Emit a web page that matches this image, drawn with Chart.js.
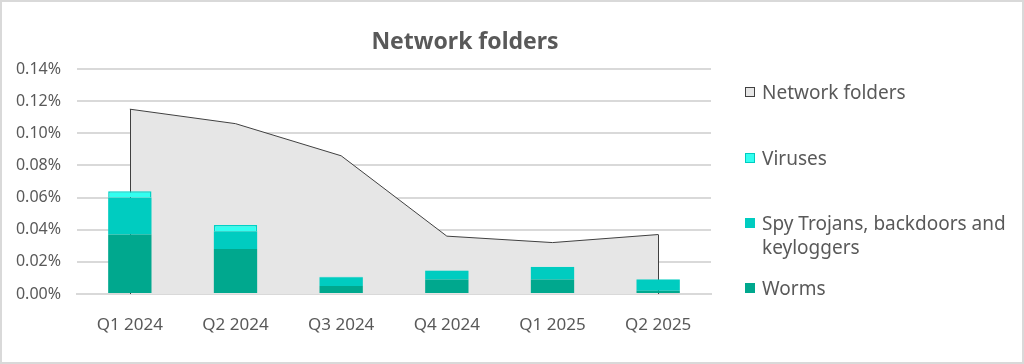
<!DOCTYPE html>
<html>
<head>
<meta charset="utf-8">
<script src="https://cdn.jsdelivr.net/npm/chart.js@4.4.1/dist/chart.umd.min.js"></script>
<style>
  html, body { margin: 0; padding: 0; background: #fff; }
  #wrap { position: relative; width: 1024px; height: 364px; }
  #frame { position: absolute; left: 0; top: 0; width: 1020px; height: 360px; border: 2px solid #d9d9d9; pointer-events: none; }
  #title { position: absolute; left: 0; width: 930px; top: 24px; text-align: center; font: bold 23px "Noto Sans", sans-serif; color: #595959; }
  #legend { position: absolute; left: 745px; top: 0; font: 19px "Noto Sans", sans-serif; color: #595959; }
  .item { position: absolute; left: 0; white-space: nowrap; line-height: 24px; }
  .box { position: absolute; left: 0; top: 7px; width: 10px; height: 10px; box-sizing: border-box; }
  .txt { position: absolute; left: 17px; top: 0; }
</style>
</head>
<body>
<div id="wrap">
  <canvas id="myChart" width="1024" height="364"></canvas>
  <div id="title">Network folders</div>
  <div id="legend"></div>
  <div id="frame"></div>
</div>
<script>
const labels = ['Q1 2024', 'Q2 2024', 'Q3 2024', 'Q4 2024', 'Q1 2025', 'Q2 2025']
// values in percent
const networkFolders = [0.115, 0.106, 0.086, 0.036, 0.032, 0.037]
const worms = [0.037, 0.028, 0.005, 0.009, 0.009, 0.002]
const spyTrojans = [0.023, 0.011, 0.0055, 0.0054, 0.0078, 0.007]
const viruses = [0.004, 0.004, 0.0002, 0.0002, 0.0002, 0.0002]
const yTicks = [0, 0.02, 0.04, 0.06, 0.08, 0.10, 0.12, 0.14]

const textColor = '#595959'
const fontFamily = '"Noto Sans", sans-serif'

// excel-style area has its vertical edges outlined
const areaEdges = {
  id: 'areaEdges',
  afterDatasetDraw(chart, args) {
    if (args.index !== 0) return
    const pts = args.meta.data
    const zero = chart.scales.y.getPixelForValue(0)
    const c = chart.ctx
    c.save()
    c.strokeStyle = '#404040'
    c.lineWidth = 1
    c.beginPath()
    for (const p of [pts[0], pts[pts.length - 1]]) {
      c.moveTo(Math.round(p.x) + 0.5, p.y)
      c.lineTo(Math.round(p.x) + 0.5, zero)
    }
    c.stroke()
    c.restore()
  }
}

const config = {
  data: {
    labels: labels,
    datasets: [
      {
        type: 'line',
        label: 'Network folders',
        data: networkFolders,
        stack: 'area',
        fill: 'origin',
        backgroundColor: '#e6e6e6',
        borderColor: '#404040',
        borderWidth: 1,
        pointRadius: 0,
        tension: 0,
        order: 10
      },
      {
        type: 'bar',
        label: 'Worms',
        data: worms,
        stack: 'bars',
        backgroundColor: '#00a88e',
        borderWidth: 0,
        order: 1
      },
      {
        type: 'bar',
        label: 'Spy Trojans, backdoors and keyloggers',
        data: spyTrojans,
        stack: 'bars',
        backgroundColor: '#00ccc0',
        borderWidth: 0,
        order: 2
      },
      {
        type: 'bar',
        label: 'Viruses',
        data: viruses,
        stack: 'bars',
        backgroundColor: '#33fff0',
        borderColor: '#00d2c6',
        borderWidth: 1.5,
        borderSkipped: 'bottom',
        order: 3
      }
    ]
  },
  options: {
    animation: false,
    responsive: false,
    barPercentage: 0.41,
    categoryPercentage: 1,
    layout: { padding: { top: 69, right: 313, left: 0, bottom: 0 } },
    plugins: {
      legend: { display: false },
      title: { display: false },
      tooltip: { enabled: false }
    },
    scales: {
      x: {
        stacked: true,
        offset: true,
        grid: { display: false },
        border: { color: '#d9d9d9', width: 2 },
        ticks: { color: textColor, font: { family: fontFamily, size: 17 }, padding: 13 },
        afterFit(scale) { scale.height = 70 }
      },
      y: {
        stacked: true,
        min: 0,
        max: 0.14,
        afterBuildTicks(scale) { scale.ticks = yTicks.map(v => ({ value: v })) },
        grid: { color: '#d9d9d9', lineWidth: 2, drawTicks: false },
        border: { display: false },
        ticks: {
          color: textColor,
          font: { family: fontFamily, size: 16 },
          padding: 16,
          callback: v => v.toFixed(2) + '%'
        },
        afterFit(scale) { scale.width = 77 }
      }
    }
  },
  plugins: [areaEdges]
}

const ctx = document.getElementById('myChart')
const chart = new Chart(ctx, config)

// legend built by hand so the long label can wrap like the original
const legendItems = [
  { text: 'Network folders', top: 80, fill: '#e6e6e6', border: '#404040' },
  { text: 'Viruses', top: 146, fill: '#33fff0', border: '#00ccc0' },
  { text: 'Spy Trojans, backdoors and<br>keyloggers', top: 211, fill: '#00ccc0', border: '#00ccc0' },
  { text: 'Worms', top: 276, fill: '#00a88e', border: '#00a88e' }
]
const legend = document.getElementById('legend')
legendItems.forEach(it => {
  const d = document.createElement('div')
  d.className = 'item'
  d.style.top = it.top + 'px'
  d.innerHTML = '<span class="box" style="background:' + it.fill + ';border:1px solid ' + it.border + '"></span><span class="txt">' + it.text + '</span>'
  legend.appendChild(d)
})
</script>
</body>
</html>
